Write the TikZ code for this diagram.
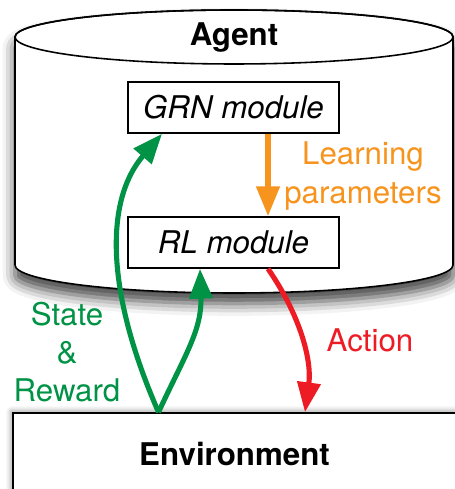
\documentclass[tikz,border=0pt]{standalone}
\usepackage{fontspec}
\setmainfont{TeX Gyre Heros}
\usetikzlibrary{arrows.meta,shadows.blur}
\definecolor{srgreen}{RGB}{0,146,69}
\definecolor{lporange}{RGB}{247,148,30}
\definecolor{actred}{RGB}{237,28,36}
\newlength\px \setlength\px{0.02cm}
\newcommand\module[3]{\node(#1)[draw,line width=0.9pt,fill=white,minimum width=211\px,minimum height=51\px,inner sep=0pt] at #2 {\itshape #3};}

\begin{document}
\begin{tikzpicture}[x=0.02cm,y=0.02cm,
    every node/.style={font=\fontsize{17.8}{21.7}\selectfont},
    flow/.style={line width=2.9pt,-{Triangle[length=17pt,width=13pt]}}]
  \useasboundingbox (0,0) rectangle (454,489);
  % agent cylinder
  \draw[line width=0.9pt,fill=white,blur shadow={shadow xshift=0pt,shadow yshift=-6pt,shadow blur radius=7pt,shadow opacity=75}]
    (15,452) -- (15,224) arc[start angle=180,end angle=360,x radius=219,y radius=28]
    -- (453,452) arc[start angle=0,end angle=180,x radius=219,y radius=27] -- cycle;
  \draw[line width=0.9pt] (234,452) ellipse[x radius=219,y radius=27];
  \node(agent)[font=\fontsize{17.8}{21.7}\selectfont\bfseries] at (234,451){Agent};
  \module{grn}{(233.5,381.5)}{GRN module}
  \module{rl}{(233.5,246.5)}{RL module}
  % environment
  \node(env)[draw,line width=0.9pt,fill=white,minimum width=443\px,minimum height=86\px,inner sep=0pt,
    blur shadow={shadow xshift=-1pt,shadow yshift=1pt,shadow blur radius=3pt,shadow opacity=40}]
    at (234.5,33){\raisebox{5\px}{\bfseries Environment}};
  % labels
  \node(lp)[align=center,text=lporange] at (363,313){Learning\\parameters};
  \node(sr)[align=center,text=srgreen] at (67,137){State\\\&\\Reward};
  \node(act)[text=actred] at (370,149){Action};
  % arrows
  \draw[flow,lporange] ([xshift=34.5\px]grn.south) -- ([xshift=34.5\px]rl.north);
  \draw[flow,srgreen] ([xshift=-76\px]env.north) .. controls (105,199) and (105,289) .. ([xshift=-71.5\px]grn.south);
  \draw[flow,srgreen] ([xshift=-76\px]env.north) .. controls (185,134) and (202,159) .. ([xshift=-33.5\px]rl.south);
  \draw[flow,actred] ([xshift=34.5\px]rl.south) .. controls (300,174) and (312,129) .. ([xshift=70.5\px]env.north);
\end{tikzpicture}
\end{document}
